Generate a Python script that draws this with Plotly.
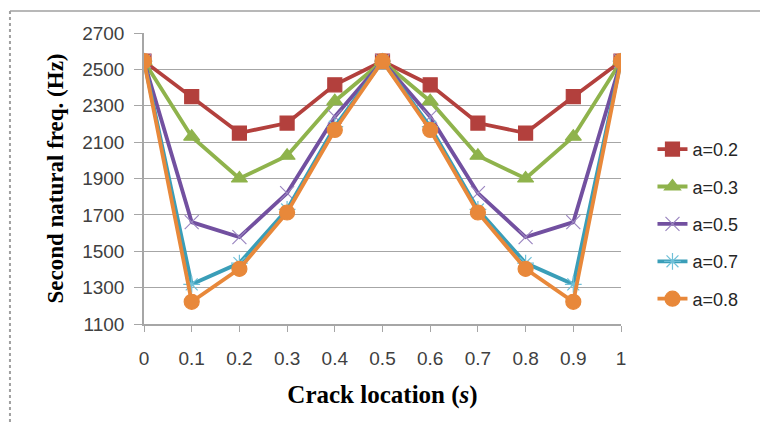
import plotly.graph_objects as go

crack_location = [0, 0.1, 0.2, 0.3, 0.4, 0.5, 0.6, 0.7, 0.8, 0.9, 1]
a02 = [2545, 2350, 2150, 2205, 2415, 2545, 2415, 2205, 2150, 2350, 2545]
a03 = [2545, 2130, 1900, 2025, 2325, 2545, 2325, 2025, 1900, 2130, 2545]
a05 = [2545, 1660, 1578, 1820, 2240, 2545, 2240, 1820, 1578, 1660, 2545]
a07 = [2545, 1318, 1435, 1730, 2185, 2545, 2185, 1730, 1435, 1318, 2545]
a08 = [2545, 1222, 1403, 1713, 2167, 2545, 2167, 1713, 1403, 1222, 2545]
names = ["a=0.2", "a=0.3", "a=0.5", "a=0.7", "a=0.8"]
x_ticks = ["0", "0.1", "0.2", "0.3", "0.4", "0.5", "0.6", "0.7", "0.8", "0.9", "1"]
y_ticks = [1100, 1300, 1500, 1700, 1900, 2100, 2300, 2500, 2700]

series = [a02, a03, a05, a07, a08]
colors = ["#B3403D", "#8FB34C", "#7250A0", "#3A9EB8", "#E8883A"]
marker_colors = ["#B3403D", "#8FB34C", "#9B86C0", "#6FC0D8", "#E8883A"]
symbols = ["square", "triangle-up", "x-thin-open", "asterisk-open", "circle"]
sizes = [14, 14, 14, 14, 15]

fig = go.Figure()
for i, (nm, ys) in enumerate(zip(names, series)):
    fig.add_trace(go.Scatter(
        x=crack_location, y=ys, name=nm, mode="lines+markers",
        legendgroup=nm,
        line=dict(color=colors[i], width=3.8),
        marker=dict(symbol=symbols[i], size=sizes[i], color=marker_colors[i],
                    line=dict(color=marker_colors[i], width=1.2)),
    ))

axis_font = dict(family="Liberation Sans", size=19, color="#404040")
fig.update_layout(
    width=760, height=424,
    margin=dict(l=144, r=139, t=33, b=100),
    paper_bgcolor="white", plot_bgcolor="white",
    showlegend=True,
    legend=dict(x=1.066, y=0.344, xanchor="left", yanchor="middle",
                font=dict(family="Liberation Sans", size=18, color="#262626"),
                traceorder="grouped", tracegroupgap=11, itemwidth=30,
                borderwidth=0, bgcolor="rgba(0,0,0,0)"),
    xaxis=dict(range=[0, 1], tickvals=crack_location, ticktext=x_ticks,
               showgrid=False, zeroline=False, showline=True, linecolor="#A6A6A6",
               linewidth=1.5, ticks="outside", ticklen=6, tickcolor="#A6A6A6",
               tickfont=axis_font, ticklabelstandoff=10,
               title=dict(text="<b>Crack location (<i>s</i>)</b>",
                          font=dict(family="Liberation Serif", size=25, color="black"),
                          standoff=18)),
    yaxis=dict(range=[1100, 2700], tickvals=y_ticks,
               showgrid=True, gridcolor="#A6A6A6", gridwidth=1.2, zeroline=False,
               showline=True, linecolor="#A6A6A6", linewidth=1.5,
               ticks="outside", ticklen=8, tickcolor="#A6A6A6",
               tickfont=axis_font, ticklabelstandoff=6,
               title=dict(text="<b>Second natural freq. (Hz)</b>",
                          font=dict(family="Liberation Serif", size=23, color="black"),
                          standoff=12)),
    shapes=[
        dict(type="line", xref="paper", yref="paper", x0=-0.281, x1=1.3, y0=1.0756, y1=1.0756,
             line=dict(color="#A0A0A0", width=1.5)),
        dict(type="line", xref="paper", yref="paper", x0=-0.281, x1=-0.281, y0=1.0756, y1=-0.35,
             line=dict(color="#A0A0A0", width=2, dash="dot")),
    ],
)

fig.write_html("out.html")
